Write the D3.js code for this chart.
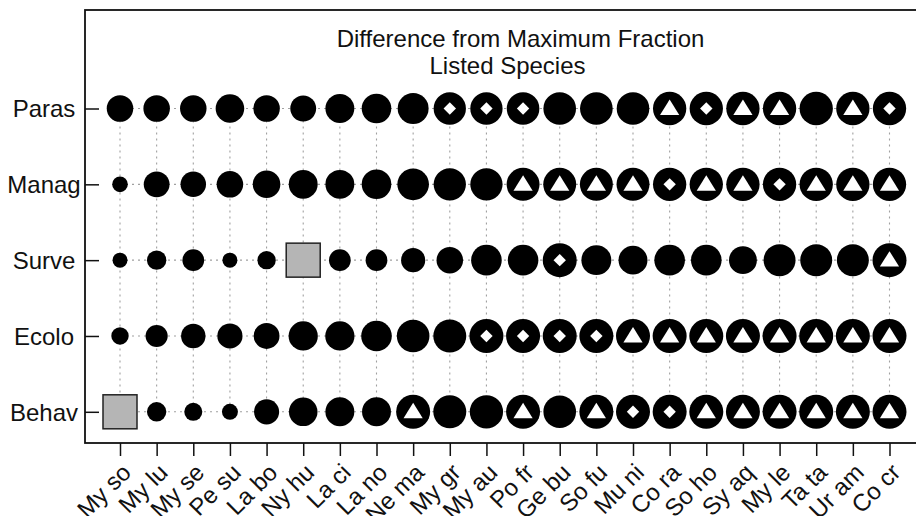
<!DOCTYPE html>
<html>
<head>
<meta charset="utf-8">
<script src="https://cdn.jsdelivr.net/npm/d3@7"></script>
<style>
  html, body { margin: 0; padding: 0; background: #fff; }
  svg { display: block; }
  text { font-family: "Liberation Sans", Arial, Helvetica, sans-serif; fill: #111; }
</style>
</head>
<body>
<div id="chart"></div>
<script>
// species along the bottom axis
const species = ['My so', 'My lu', 'My se', 'Pe su', 'La bo', 'Ny hu', 'La ci', 'La no', 'Ne ma', 'My gr', 'My au',
    'Po fr', 'Ge bu', 'So fu', 'Mu ni', 'Co ra', 'So ho', 'Sy aq', 'My le', 'Ta ta', 'Ur am', 'Co cr'];

// research categories (rows)
const categories = ['Paras', 'Manag', 'Surve', 'Ecolo', 'Behav'];

const titleLines = ['Difference from Maximum Fraction', 'Listed Species'];

// marker size per cell (relative, 1 = largest), null = missing
const parasValues = [0.78, 0.78, 0.78, 0.84, 0.78, 0.76, 0.85, 0.87, 0.91, 0.95, 0.95, 0.96, 0.96, 0.96, 0.96, 0.98, 0.98, 0.98, 0.98, 0.98, 0.98, 0.98];
const managValues = [0.46, 0.76, 0.75, 0.78, 0.81, 0.85, 0.85, 0.87, 0.93, 0.95, 0.95, 0.97, 0.97, 0.97, 0.97, 0.98, 0.98, 0.98, 0.98, 0.98, 0.98, 0.98];
const surveValues = [0.44, 0.57, 0.64, 0.44, 0.54, null, 0.64, 0.64, 0.71, 0.78, 0.90, 0.90, 1.00, 0.88, 0.85, 0.90, 0.90, 0.82, 0.94, 0.94, 0.94, 1.00];
const ecoloValues = [0.51, 0.65, 0.72, 0.74, 0.76, 0.86, 0.86, 0.90, 0.96, 0.97, 1.00, 1.00, 1.00, 1.00, 1.00, 1.00, 1.00, 1.00, 1.00, 1.00, 1.00, 1.00];
const behavValues = [null, 0.57, 0.53, 0.47, 0.74, 0.84, 0.85, 0.85, 1.00, 0.97, 0.98, 1.00, 0.96, 1.00, 1.00, 1.00, 1.00, 1.00, 1.00, 1.00, 1.00, 1.00];

// marker kind per cell: f = filled, d = diamond inside, t = triangle inside, n = no data
const parasKinds = ['f', 'f', 'f', 'f', 'f', 'f', 'f', 'f', 'f', 'd', 'd', 'd', 'f', 'f', 'f', 't', 'd', 't', 't', 'f', 't', 'd'];
const managKinds = ['f', 'f', 'f', 'f', 'f', 'f', 'f', 'f', 'f', 'f', 'f', 't', 't', 't', 't', 'd', 't', 't', 'd', 't', 't', 't'];
const surveKinds = ['f', 'f', 'f', 'f', 'f', 'n', 'f', 'f', 'f', 'f', 'f', 'f', 'd', 'f', 'f', 'f', 'f', 'f', 'f', 'f', 'f', 't'];
const ecoloKinds = ['f', 'f', 'f', 'f', 'f', 'f', 'f', 'f', 'f', 'f', 'd', 'd', 'd', 'd', 't', 't', 't', 't', 't', 't', 't', 't'];
const behavKinds = ['n', 'f', 'f', 'f', 'f', 'f', 'f', 'f', 't', 'f', 'f', 't', 'f', 't', 'd', 'd', 't', 't', 't', 't', 't', 't'];

const rowValues = [parasValues, managValues, surveValues, ecoloValues, behavValues];
const rowKinds = [parasKinds, managKinds, surveKinds, ecoloKinds, behavKinds];

const cells = [];
categories.forEach((cat, i) => {
    species.forEach((sp, j) => {
        cells.push({ category: cat, species: sp, value: rowValues[i][j], kind: rowKinds[i][j] });
    });
});

const width = 916;
const height = 516;
const frame = { left: 85, top: 10, right: 940, bottom: 443 };

const svg = d3.select('#chart').append('svg')
    .attr('width', width)
    .attr('height', height);

const x = d3.scalePoint()
    .domain(species)
    .range([120, 889.5]);

const y = d3.scalePoint()
    .domain(categories)
    .range([108.5, 411.8]);

const r = d3.scaleLinear()
    .domain([0, 1])
    .range([0, 17]);

// grid
const grid = svg.append('g')
    .attr('stroke', '#a0a0a0')
    .attr('stroke-width', 1.1)
    .attr('stroke-dasharray', '2,4');

grid.selectAll('line.h')
    .data(categories)
    .join('line')
    .attr('class', 'h')
    .attr('x1', x(species[0]))
    .attr('x2', x(species[species.length - 1]))
    .attr('y1', (d) => y(d))
    .attr('y2', (d) => y(d));

grid.selectAll('line.v')
    .data(species)
    .join('line')
    .attr('class', 'v')
    .attr('x1', (d) => x(d))
    .attr('x2', (d) => x(d))
    .attr('y1', y(categories[0]))
    .attr('y2', y(categories[categories.length - 1]));

// frame
svg.append('rect')
    .attr('x', frame.left)
    .attr('y', frame.top)
    .attr('width', frame.right - frame.left)
    .attr('height', frame.bottom - frame.top)
    .attr('fill', 'none')
    .attr('stroke', '#111')
    .attr('stroke-width', 1.8);

// axes
const xAxis = svg.append('g')
    .attr('transform', `translate(0,${frame.bottom})`)
    .call(d3.axisBottom(x).tickSize(13).tickSizeOuter(0).tickFormat(''));
xAxis.select('.domain').remove();
xAxis.selectAll('line').attr('stroke', '#111').attr('stroke-width', 1.5);

xAxis.selectAll('.tick')
    .append('text')
    .attr('transform', 'translate(6,25) rotate(-45)')
    .attr('text-anchor', 'end')
    .attr('dy', '0.35em')
    .attr('font-size', 24)
    .attr('fill', '#111')
    .text((d) => d);

const yAxis = svg.append('g')
    .attr('transform', `translate(${frame.left},0)`)
    .call(d3.axisLeft(y).tickSize(-14).tickSizeOuter(0).tickPadding(0).tickFormat(''));
yAxis.select('.domain').remove();
yAxis.selectAll('line').attr('stroke', '#111').attr('stroke-width', 1.5);

yAxis.selectAll('.tick')
    .append('text')
    .attr('x', -41)
    .attr('text-anchor', 'middle')
    .attr('dy', '0.35em')
    .attr('font-size', 24)
    .attr('fill', '#111')
    .text((d) => d);

// title
svg.append('text')
    .attr('x', 520.5)
    .attr('y', 47)
    .attr('text-anchor', 'middle')
    .attr('font-size', 24)
    .text(titleLines[0]);

svg.append('text')
    .attr('x', 507.5)
    .attr('y', 74)
    .attr('text-anchor', 'middle')
    .attr('font-size', 24)
    .text(titleLines[1]);

// markers
const marks = svg.append('g')
    .selectAll('g')
    .data(cells)
    .join('g')
    .attr('transform', (d) => `translate(${x(d.species)},${y(d.category)})`);

marks.filter((d) => d.kind === 'n')
    .append('rect')
    .attr('x', -17)
    .attr('y', -17)
    .attr('width', 34)
    .attr('height', 34)
    .attr('fill', '#b5b5b5')
    .attr('stroke', '#222')
    .attr('stroke-width', 1.5);

marks.filter((d) => d.kind !== 'n')
    .append('circle')
    .attr('r', (d) => r(d.value))
    .attr('fill', '#000');

marks.filter((d) => d.kind === 'd')
    .append('path')
    .attr('d', 'M0,-6.2L6.2,0L0,6.2L-6.2,0Z')
    .attr('fill', '#fff');

marks.filter((d) => d.kind === 't')
    .append('path')
    .attr('d', 'M0,-9L9.6,6.4L-9.6,6.4Z')
    .attr('fill', '#fff');
</script>
</body>
</html>
